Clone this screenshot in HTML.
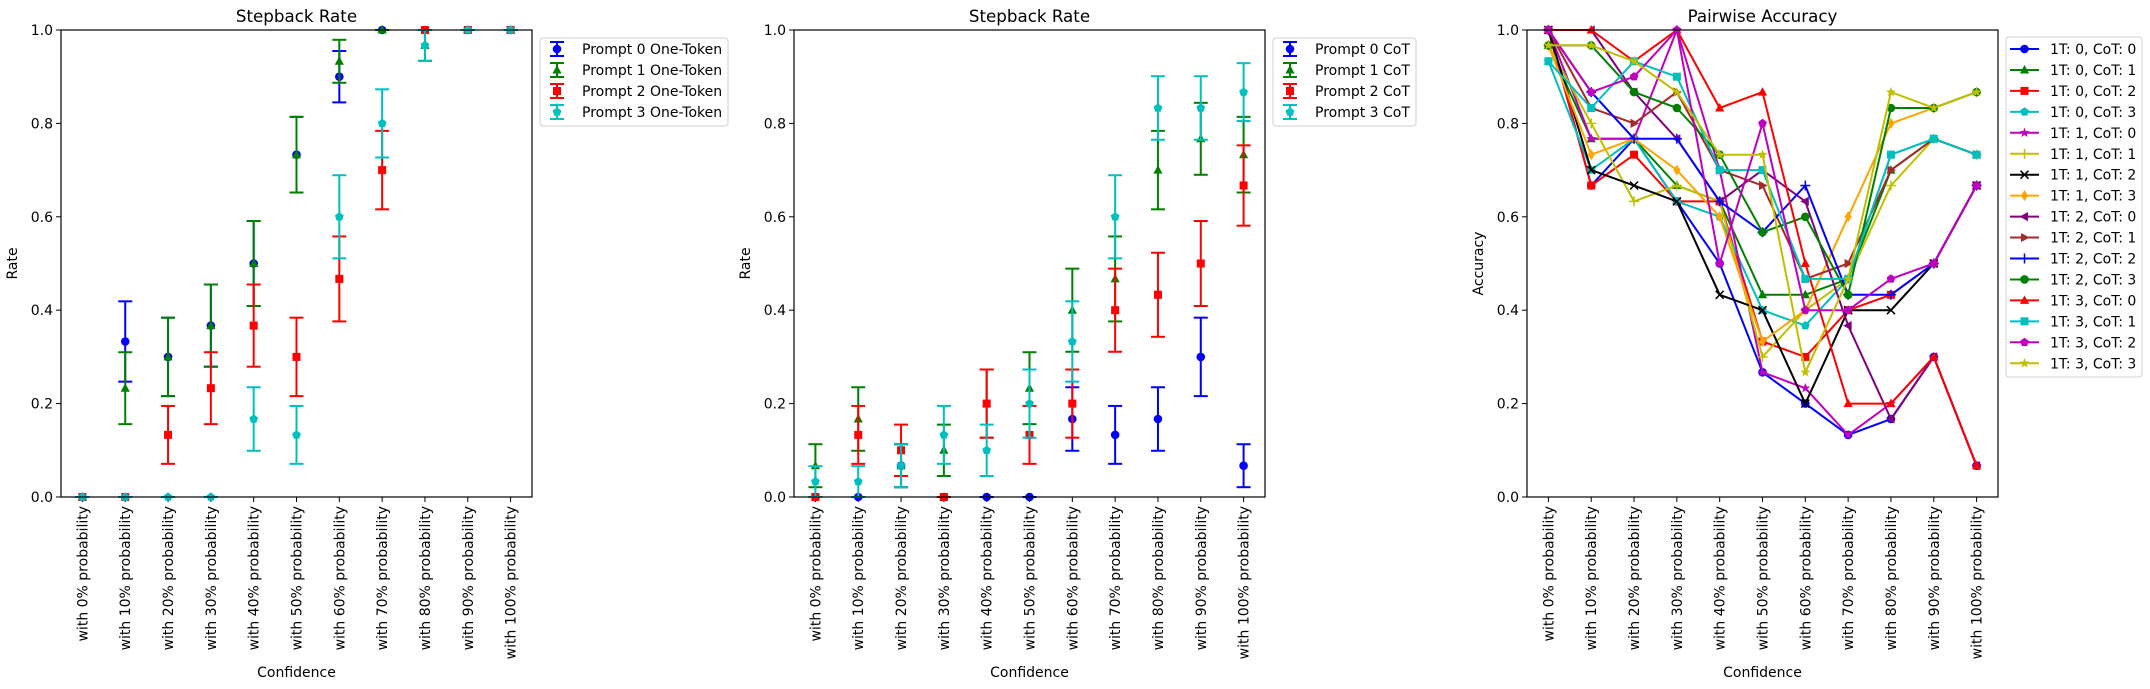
<!DOCTYPE html>
<html><head><meta charset="utf-8"><style>
html,body{margin:0;padding:0;background:#fff;}
svg{display:block;font-family:"DejaVu Sans","Liberation Sans",sans-serif;}
</style></head><body>
<svg id="fig" width="2150" height="689" viewBox="0 0 2150 689" xmlns="http://www.w3.org/2000/svg"></svg>
<script>
const categories = ["with 0% probability","with 10% probability","with 20% probability","with 30% probability","with 40% probability","with 50% probability","with 60% probability","with 70% probability","with 80% probability","with 90% probability","with 100% probability"];
const yTicks = [0.0,0.2,0.4,0.6,0.8,1.0];
const yTickLabels = ["0.0","0.2","0.4","0.6","0.8","1.0"];

// Panel 1: One-Token stepback rate
const oneTokenNames = ["Prompt 0 One-Token","Prompt 1 One-Token","Prompt 2 One-Token","Prompt 3 One-Token"];
const oneTokenP0 = [0,0.333,0.3,0.367,0.5,0.733,0.9,1,1,1,1];
const oneTokenP1 = [0,0.233,0.3,0.367,0.5,0.733,0.933,1,0.967,1,1];
const oneTokenP2 = [0,0,0.133,0.233,0.367,0.3,0.467,0.7,1,1,1];
const oneTokenP3 = [0,0,0,0,0.167,0.133,0.6,0.8,0.967,1,1];
const oneTokenErrP0 = [0,0.086,0.084,0.088,0.091,0.081,0.055,0,0,0,0];
const oneTokenErrP1 = [0,0.077,0.084,0.088,0.091,0.081,0.046,0,0.033,0,0];
const oneTokenErrP2 = [0,0,0.062,0.077,0.088,0.084,0.091,0.084,0,0,0];
const oneTokenErrP3 = [0,0,0,0,0.068,0.062,0.089,0.073,0.033,0,0];

// Panel 2: CoT stepback rate
const cotNames = ["Prompt 0 CoT","Prompt 1 CoT","Prompt 2 CoT","Prompt 3 CoT"];
const cotP0 = [0,0,0.067,0,0,0,0.167,0.133,0.167,0.3,0.067];
const cotP1 = [0.067,0.167,0.067,0.1,0.2,0.233,0.4,0.467,0.7,0.767,0.733];
const cotP2 = [0,0.133,0.1,0,0.2,0.133,0.2,0.4,0.433,0.5,0.667];
const cotP3 = [0.033,0.033,0.067,0.133,0.1,0.2,0.333,0.6,0.833,0.833,0.867];
const cotErrP0 = [0,0,0.046,0,0,0,0.068,0.062,0.068,0.084,0.046];
const cotErrP1 = [0.046,0.068,0.046,0.055,0.073,0.077,0.089,0.091,0.084,0.077,0.081];
const cotErrP2 = [0,0.062,0.055,0,0.073,0.062,0.073,0.089,0.090,0.091,0.086];
const cotErrP3 = [0.033,0.033,0.046,0.062,0.055,0.073,0.086,0.089,0.068,0.068,0.062];

// Panel 3: pairwise accuracy
const pairNames = ["1T: 0, CoT: 0","1T: 0, CoT: 1","1T: 0, CoT: 2","1T: 0, CoT: 3","1T: 1, CoT: 0","1T: 1, CoT: 1","1T: 1, CoT: 2","1T: 1, CoT: 3","1T: 2, CoT: 0","1T: 2, CoT: 1","1T: 2, CoT: 2","1T: 2, CoT: 3","1T: 3, CoT: 0","1T: 3, CoT: 1","1T: 3, CoT: 2","1T: 3, CoT: 3"];
const pair00 = [1.0,0.667,0.767,0.633,0.5,0.267,0.2,0.133,0.167,0.3,0.067];
const pair01 = [0.967,0.767,0.767,0.667,0.633,0.433,0.433,0.467,0.7,0.767,0.733];
const pair02 = [1.0,0.667,0.733,0.633,0.633,0.333,0.3,0.4,0.433,0.5,0.667];
const pair03 = [0.933,0.7,0.767,0.633,0.6,0.4,0.367,0.467,0.733,0.767,0.733];
const pair10 = [1.0,0.767,0.767,1.0,0.7,0.267,0.233,0.133,0.2,0.3,0.067];
const pair11 = [0.967,0.8,0.633,0.667,0.633,0.3,0.4,0.467,0.667,0.767,0.733];
const pair12 = [1.0,0.7,0.667,0.633,0.433,0.4,0.2,0.4,0.4,0.5,0.667];
const pair13 = [0.967,0.733,0.767,0.7,0.6,0.333,0.4,0.6,0.8,0.833,0.867];
const pair20 = [1.0,1.0,0.867,0.767,0.633,0.7,0.633,0.367,0.167,0.3,0.067];
const pair21 = [1.0,0.833,0.8,0.867,0.7,0.667,0.467,0.5,0.7,0.767,0.733];
const pair22 = [1.0,0.867,0.767,0.767,0.633,0.567,0.667,0.433,0.433,0.5,0.667];
const pair23 = [0.967,0.967,0.867,0.833,0.733,0.567,0.6,0.433,0.833,0.833,0.867];
const pair30 = [1.0,1.0,0.933,1.0,0.833,0.867,0.5,0.2,0.2,0.3,0.067];
const pair31 = [0.933,0.833,0.933,0.9,0.7,0.7,0.467,0.467,0.733,0.767,0.733];
const pair32 = [1.0,0.867,0.9,1.0,0.5,0.8,0.4,0.4,0.467,0.5,0.667];
const pair33 = [0.967,0.967,0.933,0.867,0.733,0.733,0.267,0.467,0.867,0.833,0.867];

const NS = "http://www.w3.org/2000/svg";
const svg = document.getElementById('fig');
function mk(tag, attrs, parent){ const e=document.createElementNS(NS,tag); for(const k in attrs) e.setAttribute(k,attrs[k]); (parent||svg).appendChild(e); return e; }

const TOP=30, BOT=497;
function makeAxes(left,right){
  return { left, right,
    x: i => left + (i+0.5)*(right-left)/categories.length,
    y: v => BOT - v*(BOT-TOP) };
}

function marker(g, shape, cx, cy, color, name){
  let e; const r=4.3;
  const poly = pts => mk('polygon',{points:pts.map(p=>(cx+p[0])+','+(cy+p[1])).join(' '),fill:color},g);
  if(shape==='o'){ e=mk('circle',{cx,cy,r,fill:color},g); }
  else if(shape==='s'){ e=mk('rect',{x:cx-4,y:cy-4,width:8,height:8,fill:color},g); }
  else if(shape==='^'){ e=poly([[0,-5],[4.6,3.5],[-4.6,3.5]]); }
  else if(shape==='<'){ e=poly([[-5,0],[3.5,-4.6],[3.5,4.6]]); }
  else if(shape==='>'){ e=poly([[5,0],[-3.5,-4.6],[-3.5,4.6]]); }
  else if(shape==='d'){ e=poly([[0,-5.5],[3.5,0],[0,5.5],[-3.5,0]]); }
  else if(shape==='p'){ const pts=[]; for(let k=0;k<5;k++){const a=-Math.PI/2+k*2*Math.PI/5; pts.push([4.6*Math.cos(a),4.6*Math.sin(a)]);} e=poly(pts); }
  else if(shape==='*'){ const pts=[]; for(let k=0;k<10;k++){const a=-Math.PI/2+k*Math.PI/5; const rr=k%2?2.2:5.2; pts.push([rr*Math.cos(a),rr*Math.sin(a)]);} e=poly(pts); }
  else if(shape==='+'){ e=mk('path',{d:`M${cx-5},${cy}H${cx+5}M${cx},${cy-5}V${cy+5}`,stroke:color,'stroke-width':1.5,fill:'none'},g); }
  else if(shape==='x'){ e=mk('path',{d:`M${cx-4},${cy-4}L${cx+4},${cy+4}M${cx-4},${cy+4}L${cx+4},${cy-4}`,stroke:color,'stroke-width':1.5,fill:'none'},g); }
  
  
  return e;
}

function drawFrame(ax, title, ylabel, prefix){
  const g = mk('g',{});
  
  
  // ticks
  yTicks.forEach((v,i)=>{
    mk('line',{x1:ax.left-5,x2:ax.left,y1:ax.y(v),y2:ax.y(v),stroke:'#000','stroke-width':1},g);
    const t=mk('text',{x:ax.left-8,y:ax.y(v)+5,'text-anchor':'end','font-size':14,fill:'#000'},g);
    t.textContent=yTickLabels[i];
    
    
  });
  categories.forEach((c,i)=>{
    const x=ax.x(i);
    mk('line',{x1:x,x2:x,y1:BOT,y2:BOT+5,stroke:'#000','stroke-width':1},g);
    const t=mk('text',{x:0,y:0,'text-anchor':'end','font-size':14,fill:'#000',transform:`translate(${x+5},${BOT+9}) rotate(-90)`},g);
    t.textContent=c;
    
    
  });
  const tt=mk('text',{x:(ax.left+ax.right)/2,y:22,'text-anchor':'middle','font-size':16.7,fill:'#000'},g);
  tt.textContent=title;
  
  
  const yl=mk('text',{x:0,y:0,'text-anchor':'middle','font-size':14,fill:'#000',transform:`translate(${ax.left-44},${(TOP+BOT)/2}) rotate(-90)`},g);
  yl.textContent=ylabel;
  
  
  const xl=mk('text',{x:(ax.left+ax.right)/2,y:677,'text-anchor':'middle','font-size':14,fill:'#000'},g);
  xl.textContent='Confidence';
  
  
  return g;
}
function drawBorder(ax){
  mk('rect',{x:ax.left,y:TOP,width:ax.right-ax.left,height:BOT-TOP,fill:'none',stroke:'#000','stroke-width':1.2});
}

const errColors=['#0000ff','#008000','#ff0000','#00bfbf'];
const errShapes=['o','^','s','p'];

function drawErrorPanel(ax, vals, errs, names, prefix, legX, legW){
  drawFrame(ax, 'Stepback Rate', 'Rate', prefix);
  vals.forEach((arr,si)=>{
    const g=mk('g',{});
    
    
    const col=errColors[si];
    arr.forEach((v,i)=>{
      const x=ax.x(i), e=errs[si][i];
      const y1=ax.y(Math.min(1,v+e)), y0=ax.y(Math.max(0,v-e));
      const yt=ax.y(v+e), yb=ax.y(v-e);
      mk('line',{x1:x,x2:x,y1:yt,y2:yb,stroke:col,'stroke-width':2},g);
      mk('line',{x1:x-7,x2:x+7,y1:yt,y2:yt,stroke:col,'stroke-width':2},g);
      mk('line',{x1:x-7,x2:x+7,y1:yb,y2:yb,stroke:col,'stroke-width':2},g);
      marker(g, errShapes[si], x, ax.y(v), col, prefix+'-point');
    });
  });
  drawBorder(ax);
  // legend
  const lg=mk('g',{});
  
  
  mk('rect',{x:legX,y:38,width:legW,height:88,rx:3,fill:'#fff',stroke:'#d0d0d0','stroke-width':1},lg);
  names.forEach((n,si)=>{
    const cy=49+si*21, cx=legX+17, col=errColors[si];
    const eg=mk('g',{},lg);
    
    
    mk('line',{x1:cx,x2:cx,y1:cy-7,y2:cy+7,stroke:col,'stroke-width':2},eg);
    mk('line',{x1:cx-7,x2:cx+7,y1:cy-7,y2:cy-7,stroke:col,'stroke-width':2},eg);
    mk('line',{x1:cx-7,x2:cx+7,y1:cy+7,y2:cy+7,stroke:col,'stroke-width':2},eg);
    marker(eg, errShapes[si], cx, cy, col, 'legend-marker');
    const t=mk('text',{x:legX+42,y:cy+5,'font-size':14,fill:'#000'},eg);
    t.textContent=n;
    
    
  });
}

const ax1=makeAxes(61,532), ax2=makeAxes(794,1265), ax3=makeAxes(1527,1998);
drawErrorPanel(ax1,[oneTokenP0,oneTokenP1,oneTokenP2,oneTokenP3],[oneTokenErrP0,oneTokenErrP1,oneTokenErrP2,oneTokenErrP3],oneTokenNames,'one-token',540,188);
drawErrorPanel(ax2,[cotP0,cotP1,cotP2,cotP3],[cotErrP0,cotErrP1,cotErrP2,cotErrP3],cotNames,'cot',1273,143);

// Pairwise
const pairSeries=[pair00,pair01,pair02,pair03,pair10,pair11,pair12,pair13,pair20,pair21,pair22,pair23,pair30,pair31,pair32,pair33];
const pairColors=['#0000ff','#008000','#ff0000','#00bfbf','#bf00bf','#bfbf00','#000000','#ffa500','#800080','#a52a2a','#0000ff','#008000','#ff0000','#00bfbf','#bf00bf','#bfbf00'];
const pairShapes=['o','^','s','p','*','+','x','d','<','>','+','o','^','s','p','*'];
drawFrame(ax3,'Pairwise Accuracy','Accuracy','pairwise');
pairSeries.forEach((arr,si)=>{
  const g=mk('g',{});
  
  
  const col=pairColors[si];
  mk('polyline',{points:arr.map((v,i)=>ax3.x(i)+','+ax3.y(v)).join(' '),fill:'none',stroke:col,'stroke-width':2,'stroke-linejoin':'round'},g);
  arr.forEach((v,i)=>marker(g,pairShapes[si],ax3.x(i),ax3.y(v),col,'pairwise-point'));
});
drawBorder(ax3);
const lg3=mk('g',{});


mk('rect',{x:2006,y:37,width:136,height:340,rx:3,fill:'#fff',stroke:'#d0d0d0','stroke-width':1},lg3);
pairNames.forEach((n,si)=>{
  const cy=49+si*20.95, col=pairColors[si];
  const eg=mk('g',{},lg3);
  
  
  mk('line',{x1:2010,x2:2039,y1:cy,y2:cy,stroke:col,'stroke-width':2},eg);
  marker(eg,pairShapes[si],2024.5,cy,col,'legend-marker');
  const t=mk('text',{x:2050,y:cy+5,'font-size':14,fill:'#000'},eg);
  t.textContent=n;
  
  
});
</script>
</body></html>
